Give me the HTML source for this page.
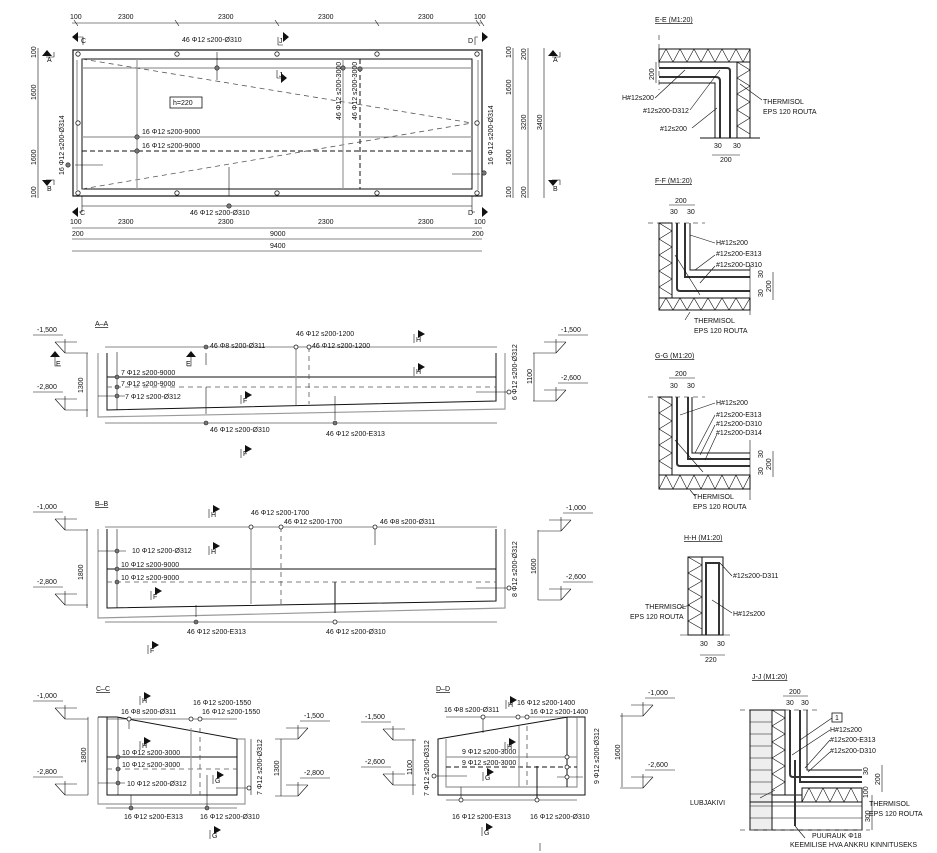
<!DOCTYPE html>
<html><head><meta charset="utf-8"><style>
html,body{margin:0;padding:0;background:#fff}
svg{display:block}
text{font-family:"Liberation Sans",sans-serif;font-size:7px;fill:#111}
.g{stroke:#999;fill:none;stroke-width:1.2}
.k{stroke:#111;fill:none;stroke-width:1}
.t{stroke:#111;fill:none;stroke-width:0.6}
.d{stroke:#111;fill:none;stroke-width:1;stroke-dasharray:5 3}
.ds{stroke:#555;fill:none;stroke-width:0.8;stroke-dasharray:5 4}
.c{fill:#fff;stroke:#222;stroke-width:0.8}
.cf{fill:#777;stroke:#222;stroke-width:0.6}
.ar{fill:#111}
</style></head><body>
<svg width="937" height="853" viewBox="0 0 937 853" xmlns="http://www.w3.org/2000/svg" xmlns:xlink="http://www.w3.org/1999/xlink">
<defs>
<g id="lv"><path class="t" d="M0 0h30M22 7h22M22 7l10 11M32 4v14M32 18h23"/></g>
<g id="mk"><path class="t" d="M0 0v9"/><path class="ar" d="M4 -4l7 4l-7 4z"/></g>
</defs>
<rect width="937" height="853" fill="#fff"/>

<!-- ================= PLAN ================= -->
<g>
<line class="t" x1="72" y1="23" x2="482" y2="23"/>
<g class="t"><path d="M74 20l4 6M175 20l4 6M275 20l4 6M375 20l4 6M476 20l4 6M480 20l4 6"/></g>
<text x="70" y="19">100</text><text x="118" y="19">2300</text><text x="218" y="19">2300</text><text x="318" y="19">2300</text><text x="418" y="19">2300</text><text x="474" y="19">100</text>
<path class="ar" d="M72 37l6-5v10z M289 37l-6-5v10z M488 37l-6-5v10z"/>
<path class="t" d="M78 37h5v8M278 37v8h5M478 37h-3v8"/>
<text x="81" y="43">C</text><text x="279" y="43">J</text><text x="468" y="43">D</text>
<text x="182" y="42">46 Φ12 s200-Ø310</text>
<rect x="73" y="50" width="409" height="146" fill="none" stroke="#111" stroke-width="1.2"/>
<rect x="82" y="59" width="390" height="130" fill="none" stroke="#111" stroke-width="1"/>
<line class="g" x1="82" y1="68" x2="472" y2="68"/>
<line class="g" x1="82" y1="137" x2="472" y2="137"/>
<line class="d" x1="82" y1="151" x2="472" y2="151"/>
<line class="ds" x1="82" y1="59" x2="472" y2="123"/>
<line class="ds" x1="82" y1="189" x2="472" y2="123"/>
<line class="g" x1="137" y1="59" x2="137" y2="189"/>
<line class="g" x1="343" y1="59" x2="343" y2="189"/>
<line class="d" x1="360" y1="59" x2="360" y2="189"/>
<line class="g" x1="77" y1="60" x2="77" y2="190"/>
<line class="g" x1="478" y1="60" x2="478" y2="190"/>
<line class="g" x1="82" y1="206" x2="472" y2="206"/>
<line class="t" x1="217" y1="52" x2="217" y2="80"/>
<line class="t" x1="229" y1="167" x2="229" y2="196"/>
<line class="t" x1="75" y1="165" x2="103" y2="165"/>
<line class="t" x1="452" y1="174" x2="480" y2="174"/>
<g><circle class="c" cx="78" cy="54" r="2.2"/><circle class="c" cx="177" cy="54" r="2.2"/><circle class="c" cx="277" cy="54" r="2.2"/><circle class="c" cx="377" cy="54" r="2.2"/><circle class="c" cx="477" cy="54" r="2.2"/>
<circle class="c" cx="78" cy="193" r="2.2"/><circle class="c" cx="177" cy="193" r="2.2"/><circle class="c" cx="277" cy="193" r="2.2"/><circle class="c" cx="377" cy="193" r="2.2"/><circle class="c" cx="477" cy="193" r="2.2"/>
<circle class="c" cx="78" cy="123" r="2.2"/><circle class="c" cx="477" cy="123" r="2.2"/>
<circle class="cf" cx="217" cy="68" r="2.2"/><circle class="cf" cx="343" cy="68" r="2.2"/><circle class="cf" cx="360" cy="69" r="2.2"/>
<circle class="cf" cx="137" cy="137" r="2.2"/><circle class="cf" cx="137" cy="151" r="2.2"/>
<circle class="cf" cx="68" cy="165" r="2.2"/><circle class="cf" cx="484" cy="173" r="2.2"/><circle class="cf" cx="229" cy="206" r="2.2"/></g>
<rect x="170" y="97" width="32" height="11" fill="#fff" stroke="#111" stroke-width="0.8"/>
<text x="173" y="105">h=220</text>
<text x="142" y="134">16 Φ12 s200-9000</text>
<text x="142" y="148">16 Φ12 s200-9000</text>
<text x="190" y="215">46 Φ12 s200-Ø310</text>
<text transform="translate(341 120) rotate(-90)">46 Φ12 s200-3000</text>
<text transform="translate(357 120) rotate(-90)">46 Φ12 s200-3000</text>
<text transform="translate(64 175) rotate(-90)">16 Φ12 s200-Ø314</text>
<text transform="translate(493 165) rotate(-90)">16 Φ12 s200-Ø314</text>
<path class="ar" d="M287 78l-6-5v10z"/><path class="t" d="M277 70v8h4"/><text x="279" y="77">J</text>
<path class="ar" d="M42 56l5-6l5 6z M42 180l5 6l5-6z M548 56l5-6l5 6z M548 180l5 6l5-6z"/>
<path class="t" d="M46 57h8v-5M46 180h8v5M552 57h8v-5M552 180h8v5"/>
<text x="47" y="62">A</text><text x="47" y="191">B</text><text x="553" y="62">A</text><text x="553" y="191">B</text>
<line class="t" x1="38" y1="48" x2="38" y2="198"/>
<text transform="translate(36 100) rotate(-90)">1600</text>
<text transform="translate(36 165) rotate(-90)">1600</text>
<text transform="translate(36 58) rotate(-90)">100</text>
<text transform="translate(36 198) rotate(-90)">100</text>
<line class="t" x1="513" y1="48" x2="513" y2="198"/>
<line class="t" x1="528" y1="48" x2="528" y2="198"/>
<line class="t" x1="544" y1="48" x2="544" y2="198"/>
<text transform="translate(511 95) rotate(-90)">1600</text><text transform="translate(511 165) rotate(-90)">1600</text>
<text transform="translate(526 130) rotate(-90)">3200</text><text transform="translate(542 130) rotate(-90)">3400</text>
<text transform="translate(511 58) rotate(-90)">100</text><text transform="translate(526 60) rotate(-90)">200</text>
<text transform="translate(511 198) rotate(-90)">100</text><text transform="translate(526 198) rotate(-90)">200</text>
<path class="ar" d="M72 212l6-5v10z M488 212l-6-5v10z"/>
<path class="t" d="M82 196v16h-3M472 196v16h3"/>
<text x="80" y="215">C</text><text x="468" y="215">D</text>
<line class="t" x1="72" y1="228" x2="482" y2="228"/>
<line class="t" x1="72" y1="239" x2="482" y2="239"/>
<line class="t" x1="72" y1="251" x2="482" y2="251"/>
<text x="70" y="224">100</text><text x="118" y="224">2300</text><text x="218" y="224">2300</text><text x="318" y="224">2300</text><text x="418" y="224">2300</text><text x="474" y="224">100</text>
<text x="72" y="236">200</text><text x="270" y="236">9000</text><text x="472" y="236">200</text>
<text x="270" y="248">9400</text>
</g>

<!-- ================= A-A ================= -->
<g>
<text x="95" y="326" text-decoration="underline">A–A</text>
<path class="g" d="M98 353V417L505 409V353"/>
<path class="k" d="M107 353V410L496 401V353"/>
<line class="k" x1="107" y1="377" x2="496" y2="377"/>
<line class="ds" x1="107" y1="387" x2="496" y2="387"/>
<line class="g" x1="296" y1="347" x2="296" y2="405"/><line class="ds" x1="309" y1="347" x2="309" y2="404"/>
<line class="t" x1="105" y1="347" x2="497" y2="347"/><line class="t" x1="105" y1="423" x2="497" y2="423"/>
<line class="t" x1="87" y1="353" x2="87" y2="417"/><line class="t" x1="534" y1="353" x2="534" y2="401"/>
<line class="t" x1="117" y1="352" x2="117" y2="410"/>
<line class="t" x1="206" y1="353" x2="206" y2="365"/><line class="t" x1="206" y1="387" x2="206" y2="414"/>
<line class="t" x1="335" y1="396" x2="335" y2="420"/><line class="t" x1="476" y1="392" x2="509" y2="392"/>
<line class="t" x1="98" y1="396" x2="125" y2="396"/>
<circle class="cf" cx="206" cy="347" r="2"/><circle class="c" cx="296" cy="347" r="2"/><circle class="c" cx="309" cy="347" r="2"/>
<circle class="cf" cx="117" cy="377" r="2"/><circle class="cf" cx="117" cy="387" r="2"/><circle class="cf" cx="117" cy="396" r="2"/>
<circle class="cf" cx="206" cy="423" r="2"/><circle class="cf" cx="335" cy="423" r="2"/><circle class="c" cx="509" cy="392" r="2"/>
<text x="210" y="348">46 Φ8 s200-Ø311</text><text x="296" y="336">46 Φ12 s200-1200</text><text x="312" y="348">46 Φ12 s200-1200</text>
<text x="121" y="375">7 Φ12 s200-9000</text><text x="121" y="386">7 Φ12 s200-9000</text><text x="125" y="399">7 Φ12 s200-Ø312</text>
<text x="210" y="432">46 Φ12 s200-Ø310</text><text x="326" y="436">46 Φ12 s200-E313</text>
<text transform="translate(83 393) rotate(-90)">1300</text><text transform="translate(532 384) rotate(-90)">1100</text>
<text transform="translate(517 400) rotate(-90)">6 Φ12 s200-Ø312</text>
<use xlink:href="#mk" transform="translate(414 334)"/><text x="416" y="342">H</text>
<use xlink:href="#mk" transform="translate(414 367)"/><text x="416" y="374">H</text>
<use xlink:href="#mk" transform="translate(241 395)"/><text x="243" y="403">F</text>
<use xlink:href="#mk" transform="translate(241 449)"/><text x="243" y="456">F</text>
<path class="ar" d="M50 357l5-6l5 6zM186 357l5-6l5 6z"/>
<path class="t" d="M55 357v9h6M191 357v9h-4"/>
<text x="56" y="366">E</text><text x="186" y="366">E</text>
</g>

<!-- ================= B-B ================= -->
<g>
<text x="95" y="506" text-decoration="underline">B–B</text>
<path class="g" d="M98 529V618L505 608V529"/>
<path class="k" d="M107 529V608L496 601V529"/>
<line class="k" x1="107" y1="569" x2="496" y2="569"/>
<line class="ds" x1="107" y1="582" x2="496" y2="582"/>
<line class="g" x1="251" y1="527" x2="251" y2="604"/><line class="ds" x1="281" y1="527" x2="281" y2="604"/>
<line class="t" x1="105" y1="527" x2="497" y2="527"/><line class="t" x1="105" y1="622" x2="497" y2="622"/>
<line class="t" x1="87" y1="529" x2="87" y2="608"/><line class="t" x1="538" y1="530" x2="538" y2="600"/>
<line class="t" x1="117" y1="529" x2="117" y2="608"/>
<line class="k" x1="335" y1="582" x2="335" y2="613"/><line class="t" x1="375" y1="527" x2="375" y2="545"/>
<line class="t" x1="196" y1="605" x2="196" y2="617"/><line class="t" x1="476" y1="588" x2="509" y2="588"/>
<line class="t" x1="98" y1="551" x2="126" y2="551"/>
<circle class="c" cx="251" cy="527" r="2"/><circle class="c" cx="281" cy="527" r="2"/><circle class="c" cx="375" cy="527" r="2"/>
<circle class="cf" cx="117" cy="551" r="2"/><circle class="cf" cx="117" cy="569" r="2"/><circle class="cf" cx="117" cy="582" r="2"/>
<circle class="cf" cx="196" cy="622" r="2"/><circle class="c" cx="335" cy="622" r="2"/><circle class="c" cx="509" cy="588" r="2"/>
<text x="251" y="515">46 Φ12 s200-1700</text><text x="284" y="524">46 Φ12 s200-1700</text><text x="380" y="524">46 Φ8 s200-Ø311</text>
<text x="132" y="553">10 Φ12 s200-Ø312</text><text x="121" y="567">10 Φ12 s200-9000</text><text x="121" y="580">10 Φ12 s200-9000</text>
<text x="187" y="634">46 Φ12 s200-E313</text><text x="326" y="634">46 Φ12 s200-Ø310</text>
<text transform="translate(83 580) rotate(-90)">1800</text><text transform="translate(536 574) rotate(-90)">1600</text>
<text transform="translate(517 597) rotate(-90)">8 Φ12 s200-Ø312</text>
<use xlink:href="#mk" transform="translate(209 509)"/><text x="211" y="517">H</text>
<use xlink:href="#mk" transform="translate(209 546)"/><text x="211" y="554">H</text>
<use xlink:href="#mk" transform="translate(151 591)"/><text x="153" y="599">F</text>
<use xlink:href="#mk" transform="translate(148 645)"/><text x="150" y="653">F</text>
</g>

<!-- ================= C-C ================= -->
<g>
<text x="96" y="691" text-decoration="underline">C–C</text>
<path class="g" d="M98 717V804H245V739H237"/>
<path class="k" d="M98 717H117L237 739V795H107V717"/>
<line class="k" x1="107" y1="757" x2="237" y2="757"/>
<line class="ds" x1="107" y1="769" x2="237" y2="769"/>
<line class="g" x1="191" y1="728" x2="191" y2="795"/><line class="ds" x1="200" y1="728" x2="200" y2="795"/>
<line class="t" x1="107" y1="719" x2="237" y2="719"/><line class="t" x1="106" y1="808" x2="237" y2="808"/>
<line class="t" x1="88" y1="717" x2="88" y2="795"/><line class="t" x1="251" y1="739" x2="251" y2="795"/>
<line class="t" x1="118" y1="717" x2="118" y2="795"/>
<line class="t" x1="129" y1="719" x2="129" y2="729"/><line class="t" x1="131" y1="795" x2="131" y2="808"/>
<line class="t" x1="207" y1="775" x2="207" y2="808"/>
<line class="t" x1="216" y1="788" x2="249" y2="788"/><line class="t" x1="98" y1="783" x2="125" y2="783"/>
<circle class="c" cx="129" cy="719" r="2"/><circle class="c" cx="191" cy="719" r="2"/><circle class="c" cx="200" cy="719" r="2"/>
<circle class="cf" cx="118" cy="757" r="2"/><circle class="cf" cx="118" cy="769" r="2"/><circle class="cf" cx="118" cy="783" r="2"/>
<circle class="cf" cx="131" cy="808" r="2"/><circle class="cf" cx="207" cy="808" r="2"/><circle class="c" cx="249" cy="788" r="2"/>
<text x="121" y="714">16 Φ8 s200-Ø311</text><text x="193" y="705">16 Φ12 s200-1550</text><text x="202" y="714">16 Φ12 s200-1550</text>
<text x="122" y="755">10 Φ12 s200-3000</text><text x="122" y="767">10 Φ12 s200-3000</text><text x="127" y="786">10 Φ12 s200-Ø312</text>
<text x="124" y="819">16 Φ12 s200-E313</text><text x="200" y="819">16 Φ12 s200-Ø310</text>
<text transform="translate(86 763) rotate(-90)">1800</text><text transform="translate(279 776) rotate(-90)">1300</text>
<text transform="translate(262 795) rotate(-90)">7 Φ12 s200-Ø312</text>
<line class="t" x1="281" y1="739" x2="281" y2="796"/>
<use xlink:href="#mk" transform="translate(140 696)"/><text x="142" y="703">H</text>
<use xlink:href="#mk" transform="translate(140 741)"/><text x="142" y="748">H</text>
<use xlink:href="#mk" transform="translate(213 775)"/><text x="215" y="783">G</text>
<use xlink:href="#mk" transform="translate(210 830)"/><text x="212" y="838">G</text>
</g>

<!-- ================= D-D ================= -->
<g>
<text x="436" y="691" text-decoration="underline">D–D</text>
<path class="k" d="M438 739L568 717H585V795H438z"/>
<path class="g" d="M446 739V787H577V717"/>
<line class="g" x1="446" y1="757" x2="577" y2="757"/>
<line class="d" x1="446" y1="767" x2="577" y2="767"/>
<line class="g" x1="519" y1="726" x2="519" y2="787"/><line class="ds" x1="527" y1="726" x2="527" y2="787"/>
<line class="k" x1="567" y1="717" x2="567" y2="787"/>
<line class="t" x1="446" y1="717" x2="585" y2="717"/><line class="t" x1="446" y1="800" x2="577" y2="800"/>
<line class="t" x1="483" y1="717" x2="483" y2="733"/><line class="t" x1="461" y1="787" x2="461" y2="800"/>
<line class="k" x1="537" y1="766" x2="537" y2="800"/><line class="t" x1="557" y1="777" x2="583" y2="777"/>
<line class="t" x1="434" y1="776" x2="467" y2="776"/>
<circle class="c" cx="483" cy="717" r="2"/><circle class="c" cx="518" cy="717" r="2"/><circle class="c" cx="527" cy="717" r="2"/>
<circle class="c" cx="567" cy="757" r="2"/><circle class="c" cx="567" cy="767" r="2"/><circle class="c" cx="567" cy="777" r="2"/>
<circle class="c" cx="434" cy="776" r="2"/><circle class="c" cx="461" cy="800" r="2"/><circle class="c" cx="537" cy="800" r="2"/>
<text x="444" y="712">16 Φ8 s200-Ø311</text><text x="517" y="705">16 Φ12 s200-1400</text><text x="530" y="714">16 Φ12 s200-1400</text>
<text x="462" y="754">9 Φ12 s200-3000</text><text x="462" y="765">9 Φ12 s200-3000</text>
<text x="452" y="819">16 Φ12 s200-E313</text><text x="530" y="819">16 Φ12 s200-Ø310</text>
<text transform="translate(412 775) rotate(-90)">1100</text><text transform="translate(620 760) rotate(-90)">1600</text>
<text transform="translate(429 796) rotate(-90)">7 Φ12 s200-Ø312</text>
<text transform="translate(599 784) rotate(-90)">9 Φ12 s200-Ø312</text>
<line class="t" x1="413" y1="739" x2="413" y2="795"/><line class="t" x1="622" y1="713" x2="622" y2="787"/>
<use xlink:href="#mk" transform="translate(506 700)"/><text x="508" y="707">H</text>
<use xlink:href="#mk" transform="translate(505 742)"/><text x="507" y="749">H</text>
<use xlink:href="#mk" transform="translate(483 772)"/><text x="485" y="780">G</text>
<use xlink:href="#mk" transform="translate(482 827)"/><text x="484" y="835">G</text>
<line class="t" x1="540" y1="843" x2="540" y2="851"/>
</g>

<!-- ================= level markers ================= -->
<use xlink:href="#lv" transform="translate(33 335)"/><use xlink:href="#lv" transform="translate(33 392)"/>
<use xlink:href="#lv" transform="translate(588 335) scale(-1 1)"/><use xlink:href="#lv" transform="translate(588 383) scale(-1 1)"/>
<use xlink:href="#lv" transform="translate(33 512)"/><use xlink:href="#lv" transform="translate(33 587)"/>
<use xlink:href="#lv" transform="translate(593 513) scale(-1 1)"/><use xlink:href="#lv" transform="translate(593 582) scale(-1 1)"/>
<use xlink:href="#lv" transform="translate(33 701)"/><use xlink:href="#lv" transform="translate(33 777)"/>
<use xlink:href="#lv" transform="translate(330 721) scale(-1 1)"/><use xlink:href="#lv" transform="translate(330 778) scale(-1 1)"/>
<use xlink:href="#lv" transform="translate(361 722)"/><use xlink:href="#lv" transform="translate(361 767)"/>
<use xlink:href="#lv" transform="translate(675 698) scale(-1 1)"/><use xlink:href="#lv" transform="translate(675 770) scale(-1 1)"/>
<text x="37" y="332">-1,500</text><text x="37" y="389">-2,800</text><text x="561" y="332">-1,500</text><text x="561" y="380">-2,600</text>
<text x="37" y="509">-1,000</text><text x="37" y="584">-2,800</text><text x="566" y="510">-1,000</text><text x="566" y="579">-2,600</text>
<text x="37" y="698">-1,000</text><text x="37" y="774">-2,800</text><text x="304" y="718">-1,500</text><text x="304" y="775">-2,800</text>
<text x="365" y="719">-1,500</text><text x="365" y="764">-2,600</text>
<text x="648" y="695">-1,000</text><text x="648" y="767">-2,600</text>

<!-- ================= DETAILS ================= -->
<g>
<text x="655" y="22" text-decoration="underline">E-E (M1:20)</text>
<line class="ds" x1="659" y1="35" x2="659" y2="90"/>
<rect x="659" y="49" width="91" height="13" fill="none" stroke="#111"/>
<rect x="737" y="62" width="13" height="76" fill="none" stroke="#111"/>
<polyline class="t" points="659,62 666,49 673,62 680,49 687,62 694,49 701,62 708,49 715,62 722,49 729,62 736,49 743,62 750,49"/>
<polyline class="t" points="737,62 750,70 737,78 750,86 737,94 750,102 737,110 750,118 737,126 750,134"/>
<path class="k" d="M659 62h78v76M659 83h56v55"/>
<path stroke="#333" stroke-width="2" fill="none" d="M659 68h68q3 0 3 3v67M659 77h57q4 0 4 4v57"/>
<line class="k" x1="700" y1="138" x2="760" y2="138"/>
<text x="654" y="80" transform="rotate(-90 654 80)">200</text>
<line class="t" x1="656" y1="62" x2="656" y2="83"/>
<text x="622" y="100">H#12s200</text><text x="643" y="113">#12s200-D312</text><text x="660" y="131">#12s200</text>
<path class="t" d="M655 98l30-28M690 110l30-40M692 128l25-20M740 84l22 16"/>
<text x="763" y="104">THERMISOL</text><text x="763" y="114">EPS 120 ROUTA</text>
<text x="714" y="148">30</text><text x="733" y="148">30</text>
<line class="t" x1="712" y1="155" x2="740" y2="155"/><text x="720" y="162">200</text>
</g>
<g>
<text x="655" y="183" text-decoration="underline">F-F (M1:20)</text>
<line class="t" x1="669" y1="205" x2="695" y2="205"/><text x="675" y="203">200</text>
<text x="670" y="214">30</text><text x="687" y="214">30</text>
<line class="ds" x1="648" y1="223" x2="705" y2="223"/>
<rect x="659" y="223" width="13" height="75" fill="none" stroke="#111"/>
<polyline class="t" points="659,223 672,231 659,239 672,247 659,255 672,263 659,271 672,279 659,287 672,295"/>
<path class="k" d="M672 223v75h78M690 223v47h60"/>
<path stroke="#333" stroke-width="2" fill="none" d="M677 223v65q0 3 3 3h70M685 223v54h65"/>
<path class="t" d="M675 255l25 40"/>
<rect x="659" y="298" width="91" height="12" fill="none" stroke="#111"/>
<polyline class="t" points="659,310 666,298 673,310 680,298 687,310 694,298 701,310 708,298 715,310 722,298 729,310 736,298 743,310 750,298"/>
<line class="t" x1="750" y1="265" x2="750" y2="315"/>
<text x="716" y="245">H#12s200</text><text x="716" y="256">#12s200-E313</text><text x="716" y="267">#12s200-D310</text>
<path class="t" d="M690 235l25 8M695 270l20-15M700 283l15-17M690 312l-5 8"/>
<text x="694" y="323">THERMISOL</text><text x="694" y="333">EPS 120 ROUTA</text>
<line class="t" x1="773" y1="272" x2="773" y2="300"/><text transform="translate(771 292) rotate(-90)">200</text>
<text transform="translate(763 278) rotate(-90)">30</text><text transform="translate(763 297) rotate(-90)">30</text>
</g>
<g>
<text x="655" y="358" text-decoration="underline">G-G (M1:20)</text>
<line class="t" x1="669" y1="378" x2="695" y2="378"/><text x="675" y="376">200</text>
<text x="670" y="388">30</text><text x="687" y="388">30</text>
<line class="ds" x1="648" y1="397" x2="705" y2="397"/>
<rect x="659" y="397" width="13" height="78" fill="none" stroke="#111"/>
<polyline class="t" points="659,397 672,405 659,413 672,421 659,429 672,437 659,445 672,453 659,461 672,469"/>
<path class="k" d="M672 397v78h78M692 397v56h58"/>
<path stroke="#333" stroke-width="2" fill="none" d="M677 397v66q0 3 3 3h70M688 397v62h62"/>
<path class="t" d="M675 440l28 32"/>
<rect x="659" y="475" width="91" height="14" fill="none" stroke="#111"/>
<polyline class="t" points="659,489 666,475 673,489 680,475 687,489 694,475 701,489 708,475 715,489 722,475 729,489 736,475 743,489 750,475"/>
<line class="t" x1="750" y1="440" x2="750" y2="500"/>
<text x="716" y="405">H#12s200</text><text x="716" y="417">#12s200-E313</text><text x="716" y="426">#12s200-D310</text><text x="716" y="435">#12s200-D314</text>
<path class="t" d="M680 415l35-12M695 453l20-38M700 455l15-30M705 460l12-26M690 490l5 6"/>
<text x="693" y="499">THERMISOL</text><text x="693" y="509">EPS 120 ROUTA</text>
<line class="t" x1="773" y1="451" x2="773" y2="477"/><text transform="translate(771 470) rotate(-90)">200</text>
<text transform="translate(763 458) rotate(-90)">30</text><text transform="translate(763 475) rotate(-90)">30</text>
</g>
<g>
<text x="684" y="540" text-decoration="underline">H-H (M1:20)</text>
<rect x="688" y="557" width="14" height="78" fill="none" stroke="#111"/>
<polyline class="t" points="688,557 702,565 688,573 702,581 688,589 702,597 688,605 702,613 688,621 702,629"/>
<rect x="702" y="557" width="21" height="78" fill="none" stroke="#111"/>
<path stroke="#333" stroke-width="2" fill="none" d="M706 635v-72h13v72"/>
<line class="t" x1="680" y1="635" x2="730" y2="635"/>
<text x="733" y="578">#12s200-D311</text><text x="733" y="616">H#12s200</text>
<path class="t" d="M720 563l12 13M712 600l20 13M690 605l-10 3"/>
<text x="645" y="609">THERMISOL</text><text x="630" y="619">EPS 120 ROUTA</text>
<text x="700" y="646">30</text><text x="717" y="646">30</text>
<line class="t" x1="700" y1="655" x2="725" y2="655"/><text x="705" y="662">220</text>
</g>
<g>
<text x="752" y="679" text-decoration="underline">J-J (M1:20)</text>
<line class="t" x1="783" y1="696" x2="808" y2="696"/><text x="789" y="694">200</text>
<text x="786" y="705">30</text><text x="801" y="705">30</text>
<line class="ds" x1="740" y1="710" x2="818" y2="710"/>
<rect x="750" y="710" width="22" height="120" fill="#eee" stroke="#111"/>
<g class="t"><path d="M750 722h22M750 734h22M750 746h22M750 758h22M750 770h22M750 782h22M750 794h22M750 806h22M750 818h22M750 830h112M772 806h90M772 818h90"/></g>
<rect x="772" y="710" width="13" height="85" fill="none" stroke="#111"/>
<polyline class="t" points="772,710 785,718 772,726 785,734 772,742 785,750 772,758 785,766 772,774 785,782 772,790"/>
<path class="k" d="M785 710v85M807 710v60h55M785 795h17v-7h60"/>
<path stroke="#333" stroke-width="2" fill="none" d="M790 710v64q0 3 3 3h69M800 710v72h62"/>
<rect x="802" y="788" width="60" height="14" fill="none" stroke="#111"/>
<polyline class="t" points="802,802 809,788 816,802 823,788 830,802 837,788 844,802 851,788 858,802"/>
<rect x="750" y="802" width="112" height="28" fill="none" stroke="#111"/>
<line stroke="#333" stroke-width="2" x1="795" y1="760" x2="795" y2="826"/>
<line class="ds" x1="740" y1="830" x2="870" y2="830"/>
<rect x="832" y="713" width="10" height="9" fill="#fff" stroke="#111" stroke-width="0.8"/><text x="835" y="720">1</text>
<text x="830" y="732">H#12s200</text><text x="830" y="742">#12s200-E313</text><text x="830" y="753">#12s200-D310</text>
<path class="t" d="M800 740l32-22M792 755l38-25M805 768l25-28M808 772l22-20M775 790l-15 8M795 826l10 12"/>
<text x="690" y="805">LUBJAKIVI</text>
<text x="812" y="838">PUURAUK Φ18</text><text x="790" y="847">KEEMILISE HVA ANKRU KINNITUSEKS</text>
<text x="869" y="806">THERMISOL</text><text x="869" y="816">EPS 120 ROUTA</text>
<line class="t" x1="882" y1="765" x2="882" y2="792"/><text transform="translate(880 785) rotate(-90)">200</text>
<line class="t" x1="872" y1="795" x2="872" y2="830"/><text transform="translate(870 822) rotate(-90)">300</text>
<text transform="translate(868 775) rotate(-90)">30</text><text transform="translate(868 798) rotate(-90)">100</text>
</g>
</svg>
</body></html>
